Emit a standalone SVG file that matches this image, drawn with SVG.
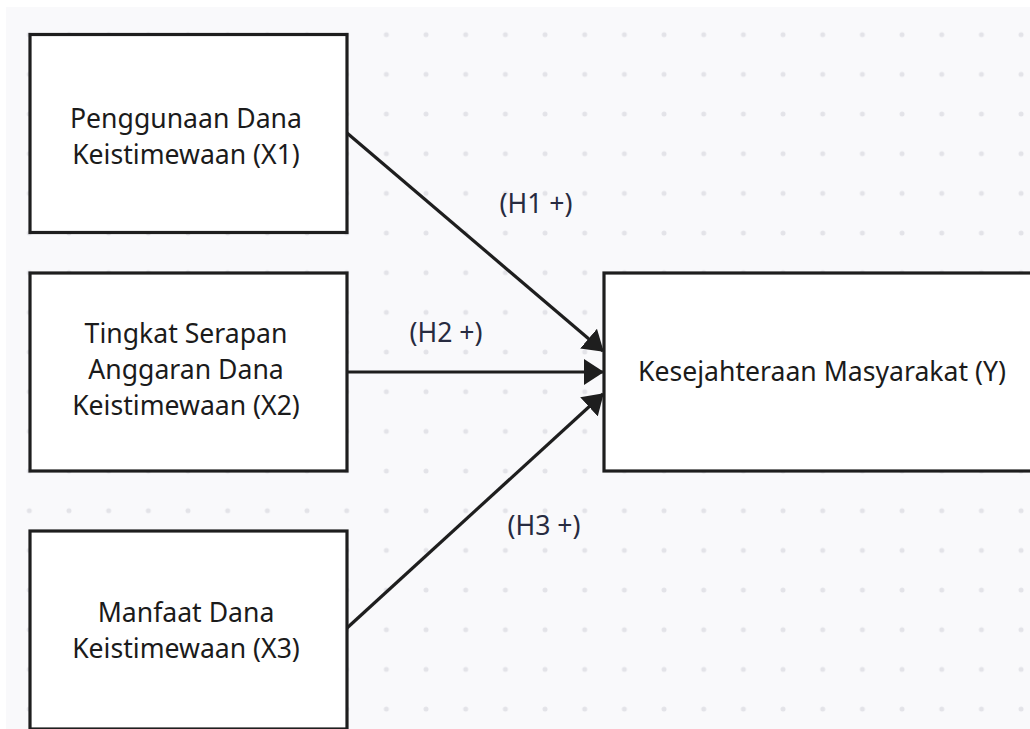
<svg xmlns="http://www.w3.org/2000/svg" width="1030" height="729" viewBox="0 0 1030 729">
  <style>
    .box { fill: #ffffff; stroke: #1e1e1e; stroke-width: 3.2; }
    .txt { font-family: "Noto Sans", "Open Sans", sans-serif; font-size: 26.6px; fill: #1b1b1b; text-anchor: middle; }
    .lbl { font-family: "Noto Sans", "Open Sans", sans-serif; font-size: 26.6px; fill: #272b40; text-anchor: middle; }
    .edge { stroke: #1e1e1e; stroke-width: 3.2; fill: none; marker-end: url(#arrow); }
  </style>
  <defs>
    <pattern id="dots" patternUnits="userSpaceOnUse" x="9.5" y="14.87" width="39.67" height="39.67">
      <circle cx="19.835" cy="19.835" r="2.5" fill="#e3e3e8"/>
    </pattern>
    <marker id="arrow" markerUnits="userSpaceOnUse" viewBox="0 0 20 26" refX="19" refY="13" markerWidth="20" markerHeight="26" orient="auto">
      <path d="M0,0 L20,13 L0,26 Z" fill="#1e1e1e"/>
    </marker>
  </defs>
  <rect x="0" y="0" width="1030" height="729" fill="#ffffff"/>
  <rect x="6" y="7" width="1024" height="722" fill="#f9f9fb"/>
  <rect x="6" y="7" width="1024" height="722" fill="url(#dots)"/>

  <g id="connectors">
    <line class="edge" x1="347" y1="133" x2="603" y2="351"/>
    <line class="edge" x1="347" y1="372" x2="603" y2="372"/>
    <line class="edge" x1="347" y1="628" x2="603" y2="394"/>
    <text class="lbl" x="536" y="213">(H1 +)</text>
    <text class="lbl" x="446" y="342">(H2 +)</text>
    <text class="lbl" x="544" y="535">(H3 +)</text>
  </g>

  <g id="x1">
    <rect class="box" x="30" y="34.5" width="317" height="198"/>
    <text class="txt" x="186" y="128">Penggunaan Dana</text>
    <text class="txt" x="186" y="164">Keistimewaan (X1)</text>
  </g>
  <g id="x2">
    <rect class="box" x="30" y="273" width="317" height="198"/>
    <text class="txt" x="186" y="343">Tingkat Serapan</text>
    <text class="txt" x="186" y="379">Anggaran Dana</text>
    <text class="txt" x="186" y="415">Keistimewaan (X2)</text>
  </g>
  <g id="x3">
    <rect class="box" x="30" y="531" width="317" height="198"/>
    <text class="txt" x="186" y="622">Manfaat Dana</text>
    <text class="txt" x="186" y="658">Keistimewaan (X3)</text>
  </g>
  <g id="y">
    <rect class="box" x="604" y="273" width="436" height="198"/>
    <text class="txt" x="822" y="381">Kesejahteraan Masyarakat (Y)</text>
  </g>
</svg>
